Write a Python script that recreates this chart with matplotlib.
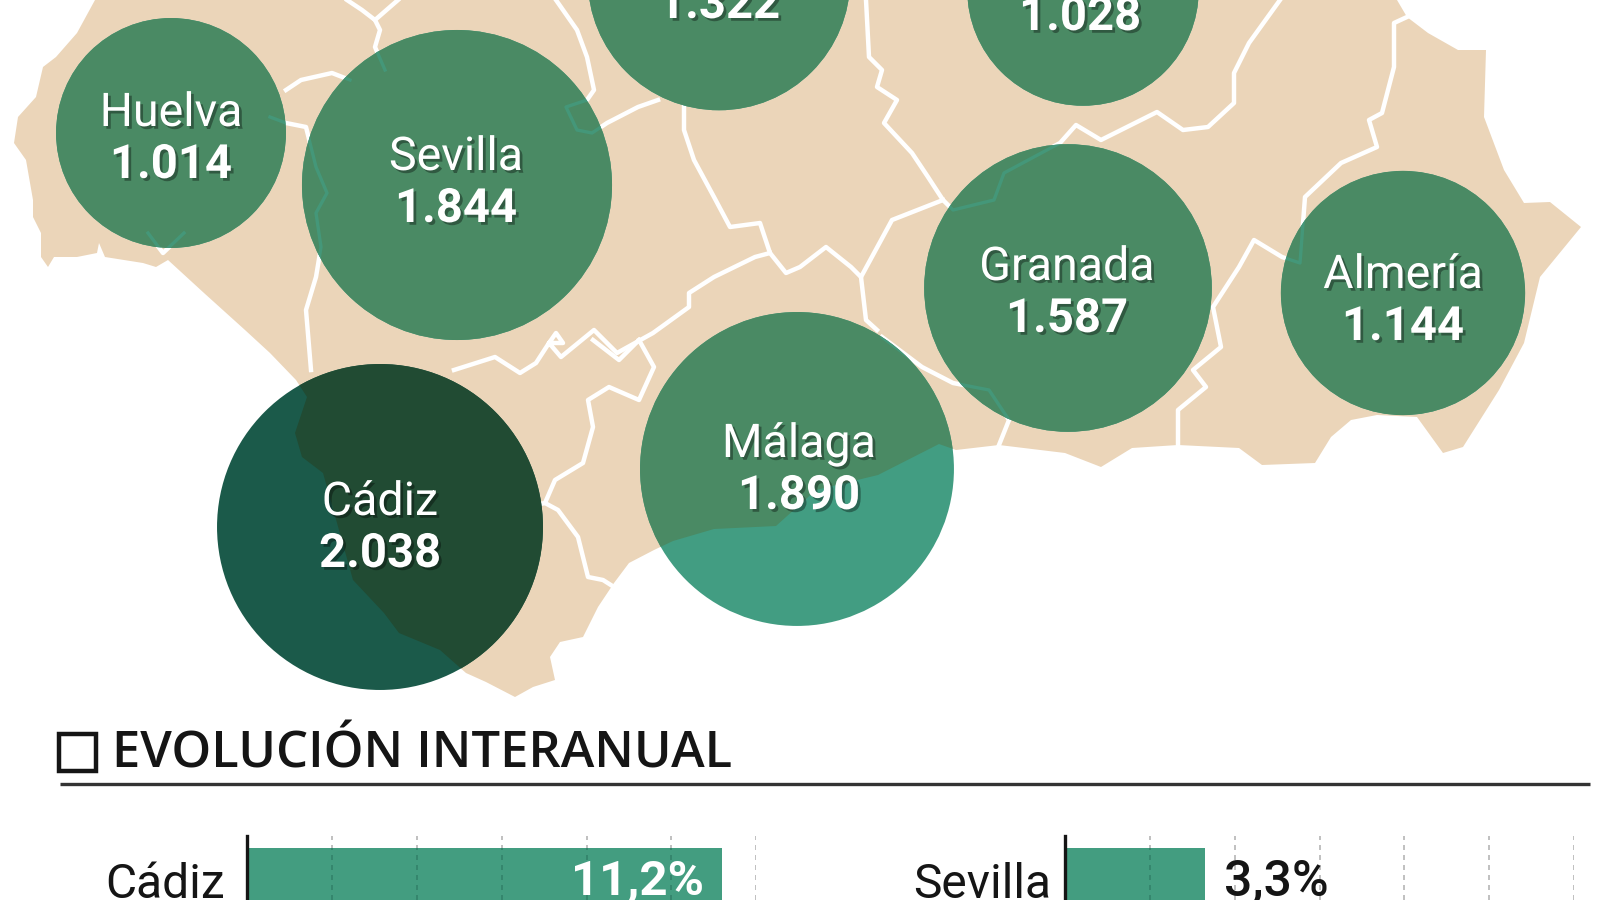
import matplotlib
matplotlib.use("Agg")
import matplotlib.pyplot as plt
import matplotlib.patheffects as pe
from matplotlib.patches import Circle, Polygon, Rectangle

# Provinces and their values
provinces = ["Huelva", "Sevilla", "Córdoba", "Jaén", "Granada", "Almería", "Málaga", "Cádiz"]
values = [1014, 1844, 1322, 1028, 1587, 1144, 1890, 2038]

# Year on year change, only the first row of each column is in the crop
bar_left_names = ["Cádiz"]
bar_left_values = [11.2]
bar_right_names = ["Sevilla"]
bar_right_values = [3.3]
bar_ticks = [2, 4, 6, 8, 10, 12]

# Map geometry traced in picture pixels
land_outline = [
    (95, 0), (77, 33), (56, 57), (43, 67), (36, 97), (18, 117), (14, 143), (26, 160), (33, 200),
    (33, 217), (41, 233), (41, 257), (48, 267), (54, 257), (77, 257), (97, 253), (99, 243),
    (105, 257), (143, 263), (156, 267), (168, 260), (204, 293), (245, 330), (270, 353), (296, 380),
    (307, 397), (295, 433), (302, 457), (323, 473), (353, 580), (384, 613), (399, 633), (440, 650),
    (466, 673), (486, 682), (515, 697), (533, 687), (555, 680), (550, 657), (560, 642), (583, 637),
    (598, 607), (614, 583), (629, 563), (654, 550), (673, 541), (714, 529), (776, 526), (816, 490),
    (878, 475), (939, 444), (956, 450), (999, 445), (1065, 453), (1101, 467), (1132, 448),
    (1178, 445), (1239, 448), (1262, 465), (1315, 463), (1331, 437), (1351, 420), (1377, 415),
    (1417, 417), (1443, 453), (1463, 447), (1499, 390), (1524, 343), (1540, 277), (1581, 227),
    (1550, 202), (1524, 203), (1504, 170), (1484, 117), (1486, 50), (1458, 50), (1428, 33),
    (1407, 17), (1397, 0),
]
province_borders = [
    [(347, 0), (362, 10), (375, 20), (380, 30), (375, 47), (385, 70)],
    [(398, 0), (375, 20)],
    [(270, 117), (286, 123), (306, 127), (316, 167), (327, 193), (316, 213), (321, 247), (316, 277),
     (306, 310), (311, 370)],
    [(286, 90), (301, 80), (332, 73), (350, 80)],
    [(148, 233), (163, 253), (184, 233)],
    [(556, 0), (577, 30), (587, 57), (594, 90), (587, 100), (566, 107), (577, 130), (592, 133),
     (607, 123), (638, 107), (658, 100)],
    [(684, 107), (684, 130), (694, 160), (714, 197), (730, 227), (760, 223), (770, 253), (786, 273),
     (800, 267), (826, 247), (851, 267), (861, 277), (892, 220), (943, 200)],
    [(861, 277), (866, 320), (877, 330)],
    [(770, 253), (755, 257), (714, 277), (689, 293), (689, 307), (653, 333), (617, 353), (594, 330),
     (561, 357), (549, 343), (556, 333), (563, 343), (549, 343), (536, 363), (520, 373), (495, 357),
     (454, 370)],
    [(639, 340), (654, 367), (639, 400), (609, 387), (588, 400), (593, 427), (583, 463), (555, 480),
     (545, 503), (558, 510), (578, 537), (588, 577), (603, 580), (614, 587)],
    [(593, 340), (619, 360), (639, 340)],
    [(512, 510), (545, 503)],
    [(866, 0), (869, 57), (882, 70), (877, 87), (897, 100), (884, 123), (912, 153), (928, 177),
     (943, 200), (953, 210), (994, 200), (1004, 173), (1060, 143), (1076, 125), (1101, 140),
     (1157, 112), (1183, 130), (1208, 127), (1234, 103), (1234, 73), (1249, 43), (1280, 0)],
    [(1407, 17), (1394, 23), (1394, 67), (1382, 113), (1369, 120), (1377, 147), (1341, 163),
     (1305, 197), (1300, 263), (1282, 257), (1254, 240), (1239, 267), (1213, 307), (1221, 347),
     (1193, 370), (1206, 387), (1178, 410), (1178, 445)],
    [(882, 337), (922, 367), (953, 383), (989, 390), (1009, 420), (999, 445)],
]

# Layout in picture pixels: centre x, centre y, label x, name baseline, number baseline
bubble_layout = {
    "Huelva": (171, 133, 171, 126, 178),
    "Sevilla": (457, 185, 456, 170, 222),
    "Córdoba": (719, -21, 719, None, 18),
    "Jaén": (1083, -10, 1080, None, 30),
    "Granada": (1068, 288, 1067, 280, 332),
    "Almería": (1403, 293, 1403, 288, 340),
    "Málaga": (797, 469, 799, 457, 509),
    "Cádiz": (380, 527, 380, 515, 567),
}
RADIUS_FACTOR = 3.61

TAN = "#ebd5b9"
BUBBLE_LAND = "#4a8a64"
BUBBLE_SEA = "#429d82"
DARK_LAND = "#214b33"
DARK_SEA = "#1b5a4a"
BAR_COLOR = "#439d80"
INK = "#151515"


def draw_map(ax):
    ax.add_patch(Polygon(land_outline, closed=True, facecolor=TAN, edgecolor="none", zorder=1))
    for border in province_borders:
        xs, ys = zip(*border)
        ax.plot(xs, ys, color="white", lw=3.2, solid_joinstyle="round", zorder=2)


def draw_bubbles(ax):
    shadow = [pe.SimplePatchShadow(offset=(2, -2), shadow_rgbFace="black", alpha=0.35), pe.Normal()]
    for name, value in zip(provinces, values):
        cx, cy, label_x, name_y, value_y = bubble_layout[name]
        radius = RADIUS_FACTOR * value ** 0.5
        sea = DARK_SEA if name == "Cádiz" else BUBBLE_SEA
        land = DARK_LAND if name == "Cádiz" else BUBBLE_LAND

        circle = Circle((cx, cy), radius, facecolor=sea, edgecolor="none", zorder=3)
        ax.add_patch(circle)
        # the map shows through each bubble in a darker tone
        inner = Polygon(land_outline, closed=True, facecolor=land, edgecolor="none", zorder=4)
        ax.add_patch(inner)
        inner.set_clip_path(circle)
        if name != "Cádiz":
            for border in province_borders:
                xs, ys = zip(*border)
                line, = ax.plot(xs, ys, color=sea, lw=2.4, alpha=0.7, zorder=5)
                line.set_clip_path(circle)

        if name_y is not None:
            ax.text(label_x, name_y, name, color="white", fontsize=33.5, family="Roboto", ha="center",
                    va="baseline", zorder=10, path_effects=shadow)
        ax.text(label_x, value_y, f"{value:,}".replace(",", "."), color="white", fontsize=34,
                family="Roboto", weight="bold", ha="center", va="baseline", zorder=10,
                path_effects=shadow)


def draw_header(ax):
    ax.add_patch(Rectangle((59, 734), 37, 37, facecolor="none", edgecolor=INK, lw=3.2, zorder=3))
    ax.text(112, 767, "EVOLUCIÓN INTERANUAL", color=INK, fontsize=36.5, family="Open Sans",
            weight="semibold", ha="left", va="baseline")
    ax.plot([60, 1590], [784, 784], color="#333333", lw=2.4, solid_capstyle="butt")


def draw_bars(fig, left_px, names, data, label_pad):
    # one unit of change is 42.4 px, the row is 64 px high
    ax = fig.add_axes([left_px / 1600, 0, 12 * 42.4 / 1600, 64 / 900])
    ax.patch.set_alpha(0)
    bars = ax.barh(range(len(data)), data, height=0.9, color=BAR_COLOR, zorder=1)
    ax.set_xlim(0, 12)
    ax.set_ylim(0.367, -0.633)
    for tick in bar_ticks:
        ax.axvline(tick, color="#b5b5b5", lw=1.2, ls=(0, (3, 3)), zorder=0)
        # darker where the dashes cross a bar
        on_bar = ax.axvline(tick, color="#33826a", lw=1.2, ls=(0, (3, 3)), zorder=2)
        on_bar.set_clip_path(bars[0])
    for side in ["top", "right", "bottom"]:
        ax.spines[side].set_visible(False)
    ax.spines["left"].set_linewidth(2.4)
    ax.spines["left"].set_color(INK)
    ax.set_xticks([])
    ax.set_yticks([i + 0.05 for i in range(len(names))])
    ax.set_yticklabels(names, fontsize=34.5, family="Roboto", color=INK)
    ax.tick_params(axis="y", length=0, pad=label_pad)
    for i, value in enumerate(data):
        label = f"{value:.1f}%".replace(".", ",")
        if value > 6:
            ax.text(value - 0.42, i + 0.08, label, color="white", fontsize=35.5, family="Roboto",
                    weight="bold", ha="right", va="center", zorder=3)
        else:
            ax.text(value + 0.45, i + 0.08, label, color=INK, fontsize=36, family="Roboto",
                    weight="medium", ha="left", va="center", zorder=3)


def main():
    fig = plt.figure(figsize=(16, 9), dpi=100, facecolor="white")
    ax = fig.add_axes([0, 0, 1, 1])
    ax.set_xlim(0, 1600)
    ax.set_ylim(900, 0)
    ax.axis("off")

    draw_map(ax)
    draw_bubbles(ax)
    draw_header(ax)
    draw_bars(fig, 247.4, bar_left_names, bar_left_values, 16)
    draw_bars(fig, 1065.3, bar_right_names, bar_right_values, 10)

    fig.savefig("out.png", dpi=100)


if __name__ == "__main__":
    main()
